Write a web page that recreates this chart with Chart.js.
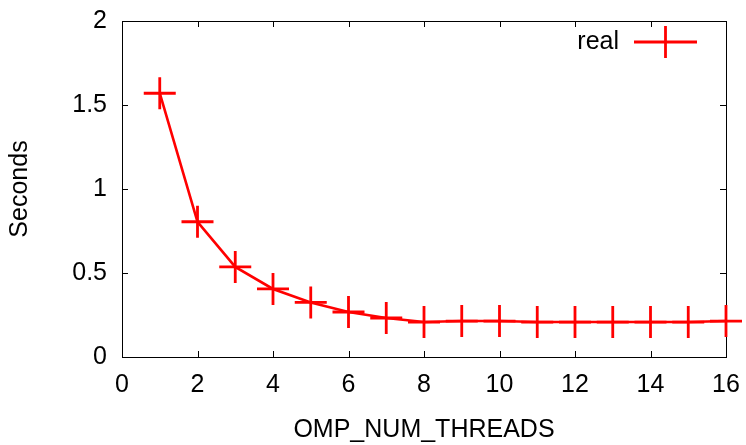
<!DOCTYPE html>
<html>
<head>
<meta charset="utf-8">
<script src="https://cdn.jsdelivr.net/npm/chart.js@4/dist/chart.umd.min.js"></script>
<style>
  html, body { margin: 0; padding: 0; background: #fff; }
  #wrap { width: 746px; height: 445px; }
</style>
</head>
<body>
<div id="wrap"><canvas id="chart"></canvas></div>
<script>
// data
const threads = [1, 2, 3, 4, 5, 6, 7, 8, 9, 10, 11, 12, 13, 14, 15, 16];
const realSeconds = [1.57, 0.805, 0.536, 0.405, 0.325, 0.268, 0.232, 0.208, 0.214, 0.214, 0.208, 0.208, 0.208, 0.208, 0.208, 0.214];
const seriesName = "real";
const xTitle = "OMP_NUM_THREADS";
const yTitle = "Seconds";

const FONT = "'Liberation Sans', Arial, sans-serif";
const FSIZE = 25;
const RED = "#ff0000";

// gnuplot style frame: full box with inward ticks on all four sides
const frame = {
  id: "frame",
  beforeDatasetsDraw(chart) {
    const { ctx, chartArea: a, scales } = chart;
    ctx.save();
    ctx.strokeStyle = "#000";
    ctx.lineWidth = 1;
    ctx.strokeRect(a.left + 0.5, a.top + 0.5, a.right - a.left, a.bottom - a.top);
    ctx.beginPath();
    scales.x.ticks.forEach((t) => {
      const px = Math.round(scales.x.getPixelForValue(t.value)) + 0.5;
      ctx.moveTo(px, a.bottom); ctx.lineTo(px, a.bottom - 6);
      ctx.moveTo(px, a.top); ctx.lineTo(px, a.top + 6);
    });
    scales.y.ticks.forEach((t) => {
      const py = Math.round(scales.y.getPixelForValue(t.value)) + 0.5;
      ctx.moveTo(a.left, py); ctx.lineTo(a.left + 6, py);
      ctx.moveTo(a.right, py); ctx.lineTo(a.right - 6, py);
    });
    ctx.stroke();

    // key, text right justified then line + point sample
    const ds = chart.data.datasets[0];
    const ky = 42;
    ctx.fillStyle = "#000";
    ctx.font = FSIZE + "px " + FONT;
    ctx.textAlign = "right";
    ctx.textBaseline = "middle";
    ctx.fillText(ds.label, 619, ky);
    ctx.strokeStyle = ds.borderColor;
    ctx.lineWidth = ds.pointBorderWidth;
    ctx.beginPath();
    ctx.moveTo(634, ky); ctx.lineTo(697, ky);
    ctx.moveTo(665.5, ky - 16); ctx.lineTo(665.5, ky + 16);
    ctx.stroke();
    ctx.restore();
  }
};

const tickFont = { family: FONT, size: FSIZE };

new Chart(document.getElementById("chart"), {
  type: "line",
  data: {
    datasets: [{
      label: seriesName,
      data: threads.map((t, i) => ({ x: t, y: realSeconds[i] })),
      borderColor: RED,
      backgroundColor: RED,
      borderWidth: 2.6,
      pointStyle: "cross",
      pointRadius: 16,
      pointBorderWidth: 2.8,
      pointBorderColor: RED,
      tension: 0,
      fill: false,
      clip: false
    }]
  },
  options: {
    responsive: true,
    maintainAspectRatio: false,
    animation: false,
    layout: { padding: { top: 21, right: 20, left: 0, bottom: 0 } },
    plugins: { legend: { display: false }, tooltip: { enabled: false } },
    scales: {
      x: {
        type: "linear",
        min: 0, max: 16,
        afterFit: (s) => { s.height = 88; s.paddingLeft = 0; s.paddingRight = 0; },
        grid: { display: false, drawTicks: false },
        border: { display: false },
        ticks: { stepSize: 2, color: "#000", font: tickFont, padding: 13, maxRotation: 0 },
        title: { display: true, text: xTitle, color: "#000", font: tickFont, padding: { top: 0, bottom: 0 } }
      },
      y: {
        min: 0, max: 2,
        afterFit: (s) => { s.width = 122; s.paddingTop = 0; s.paddingBottom = 0; },
        grid: { display: false, drawTicks: false },
        border: { display: false },
        ticks: { stepSize: 0.5, color: "#000", font: tickFont, padding: 15, callback: (v) => String(v) },
        title: { display: true, text: yTitle, color: "#000", font: tickFont, padding: { top: 5, bottom: 0 } }
      }
    }
  },
  plugins: [frame]
});
</script>
</body>
</html>
